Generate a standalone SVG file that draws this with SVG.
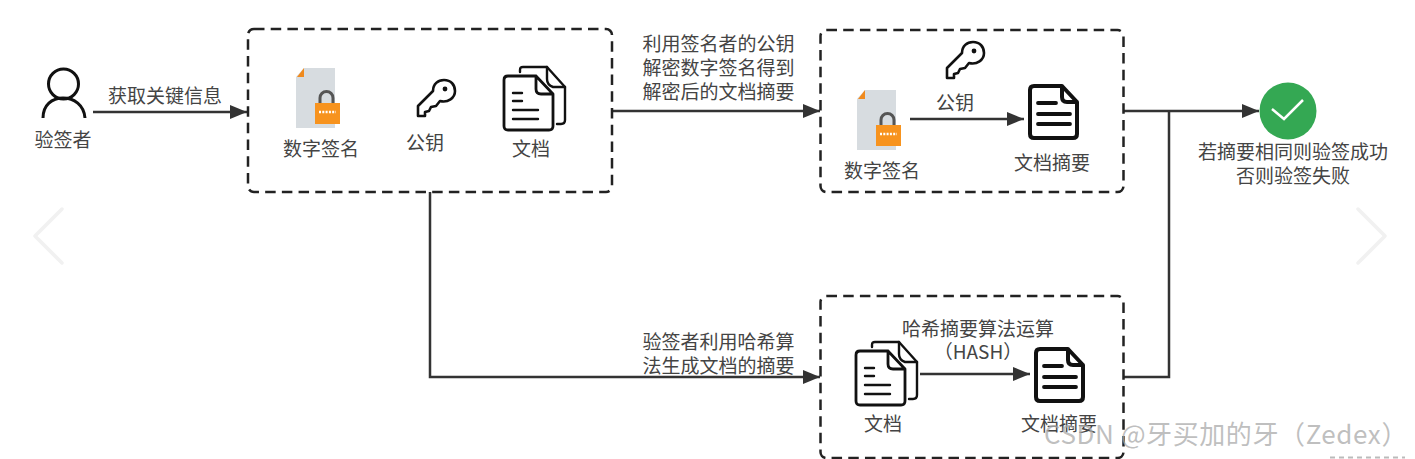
<svg xmlns="http://www.w3.org/2000/svg" width="1415" height="459" viewBox="0 0 1415 459">
<style>
text{font-family:"Noto Sans CJK SC","Noto Sans",sans-serif;font-size:19px;fill:#444;text-anchor:middle}
.box{fill:none;stroke:#222;stroke-width:2.500;stroke-dasharray:10.500 6.200}
.line{fill:none;stroke:#333;stroke-width:2.500}
.arr{marker-end:url(#a)}
.ink{fill:none;stroke:#111;stroke-linejoin:round;stroke-linecap:round}
.chev{fill:none;stroke:#f1f1f1;stroke-width:3.500;stroke-linecap:round;stroke-linejoin:round}
</style>
<defs>
<marker id="a" markerUnits="userSpaceOnUse" markerWidth="18" markerHeight="15" refX="17" refY="7" orient="auto"><path d="M0 0L17 7L0 14Z" fill="#333"/></marker>
<g id="signed">
<path d="M8 0H39V60H0V9Z" fill="#d7dce0"/>
<path d="M8 0V9H1Z" fill="#f08a1d"/>
<path d="M24 37V30a6.500 6.500 0 0 1 13 0V37" fill="none" stroke="#555" stroke-width="3"/>
<rect x="19" y="35" width="25" height="21" fill="#f7931e"/>
<path d="M23 44H40" stroke="#fff" stroke-width="2.500" stroke-dasharray="2 1.300"/>
</g>
<g id="key">
<path class="ink" stroke-width="2.600" d="M1 37V27L16 12C16 5 21 1 27 1C34 1 38 6 38 12C38 19 31 24 23 22L19 27L14 28L12 32L8 33V37Z"/>
<circle cx="28" cy="10" r="2.400" fill="#111"/>
</g>
<g id="doc">
<path class="ink" stroke-width="4" d="M7 2H35L50 18V50Q50 54 46 54H7Q3 54 3 50V6Q3 2 7 2ZM35 2V13Q35 18 40 18H50"/>
<path class="ink" stroke-width="3.800" d="M11 19H29M11 30H43M11 40H43"/>
</g>
<g id="docs">
<path class="ink" stroke-width="2.400" d="M17 6V4Q17 1 20 1H44L62 21V54Q62 58 58 58H54"/>
<path class="ink" stroke-width="2.400" d="M44 1V13Q44 19 50 21H62"/>
<path class="ink" stroke-width="2.800" d="M5 10H33L50 28V60Q50 64 46 64H5Q1 64 1 60V14Q1 10 5 10ZM33 10V23Q33 28 38 28H50"/>
<path class="ink" stroke-width="2.400" d="M10 27H19M10 35H19M10 44H35M10 53H35"/>
</g>
</defs>
<g id="chevrons">
<path class="chev" d="M62 209L35 236L62 263"/>
<path class="chev" d="M1358 209L1385 236L1358 263"/>
</g>
<g id="connectors">
<path class="line arr" d="M93 112H247"/>
<path class="line arr" d="M612 111H820"/>
<path class="line arr" d="M430 192V377H820"/>
<path class="line arr" d="M1124 111H1259"/>
<path class="line" d="M1124 377H1169V111"/>
<path class="line arr" d="M910 119H1024"/>
<path class="line arr" d="M920 374H1030"/>
</g>
<g id="verifier">
<circle cx="63.500" cy="84" r="15" fill="none" stroke="#111" stroke-width="3"/>
<path d="M43 118C43 105 52 98 63 98C74 98 84 105 85 118" fill="none" stroke="#111" stroke-width="3"/>
<text x="63" y="147">验签者</text>
</g>
<g id="label-get"><text x="165" y="103">获取关键信息</text></g>
<g id="box-info">
<rect class="box" x="248" y="29" width="364" height="163" rx="6"/>
<use href="#signed" x="296" y="68"/>
<text x="321" y="156">数字签名</text>
<use href="#key" x="417" y="79"/>
<text x="425" y="150">公钥</text>
<use href="#docs" x="503" y="66"/>
<text x="531" y="156">文档</text>
</g>
<g id="label-decrypt">
<text x="718.500" y="51">利用签名者的公钥</text>
<text x="718.500" y="75">解密数字签名得到</text>
<text x="718.500" y="99">解密后的文档摘要</text>
</g>
<g id="box-decrypt">
<rect class="box" x="820.500" y="30" width="303" height="162" rx="6"/>
<use href="#key" x="946" y="41"/>
<use href="#signed" x="857" y="90"/>
<text x="882" y="178">数字签名</text>
<text x="955" y="110">公钥</text>
<use href="#doc" x="1027" y="84"/>
<text x="1052" y="170">文档摘要</text>
</g>
<g id="result">
<circle cx="1288" cy="111" r="28.500" fill="#34a853"/>
<path d="M1272 109L1284 119L1303 100" fill="none" stroke="#fff" stroke-width="2.500"/>
<text x="1293" y="159">若摘要相同则验签成功</text>
<text x="1293" y="183">否则验签失败</text>
</g>
<g id="label-hash">
<text x="718.500" y="349">验签者利用哈希算</text>
<text x="718.500" y="373">法生成文档的摘要</text>
</g>
<g id="box-hash">
<rect class="box" x="820.500" y="296" width="303" height="162" rx="6"/>
<text x="978" y="336">哈希摘要算法运算</text>
<text x="978" y="359">（HASH）</text>
<use href="#docs" x="855" y="341"/>
<text x="883" y="431">文档</text>
<use href="#doc" x="1033" y="347"/>
<text x="1059" y="431">文档摘要</text>
</g>
<text x="1226" y="444" style="font-size:26px;fill:#aaa;fill-opacity:.75;letter-spacing:.6px">CSDN @牙买加的牙（Zedex）</text>
<path d="M1330 457.500H1405" stroke="#bbb" stroke-width="2" stroke-dasharray="5 4"/>
</svg>
